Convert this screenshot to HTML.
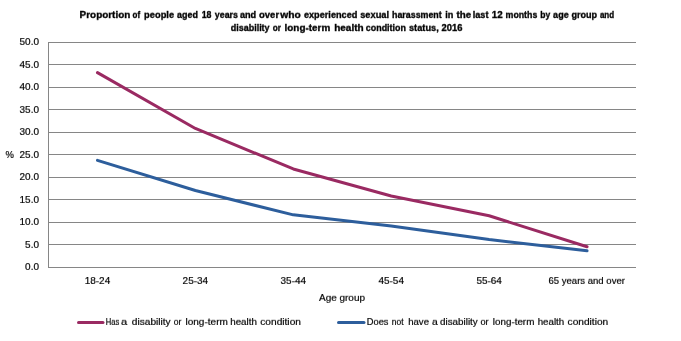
<!DOCTYPE html>
<html><head><meta charset="utf-8"><style>
html,body{margin:0;padding:0;background:#fff;width:681px;height:341px;overflow:hidden;position:relative}
svg{display:block}
text{font-family:"Liberation Sans", sans-serif;fill:#000;stroke:#000;stroke-width:0.2px}
text[font-weight=bold]{stroke-width:0.35px}
.tl{position:absolute;left:0;width:681px;height:16px;will-change:transform;transform:scaleY(0.875);transform-origin:0 12px}
#chart{position:absolute;left:0;top:0}
</style></head><body>
<svg id="chart" width="681" height="341" viewBox="0 0 681 341">
<rect width="681" height="341" fill="#fff"/>

<g stroke="#868686" stroke-width="1" shape-rendering="crispEdges"><line x1="48" y1="42.5" x2="636" y2="42.5"/><line x1="48" y1="64.5" x2="636" y2="64.5"/><line x1="48" y1="87.5" x2="636" y2="87.5"/><line x1="48" y1="109.5" x2="636" y2="109.5"/><line x1="48" y1="132.5" x2="636" y2="132.5"/><line x1="48" y1="154.5" x2="636" y2="154.5"/><line x1="48" y1="177.5" x2="636" y2="177.5"/><line x1="48" y1="199.5" x2="636" y2="199.5"/><line x1="48" y1="222.5" x2="636" y2="222.5"/><line x1="48" y1="244.5" x2="636" y2="244.5"/><line x1="48" y1="267.5" x2="636" y2="267.5"/><line x1="48.5" y1="42" x2="48.5" y2="268"/></g>
<polyline points="97.46,160.40 195.38,190.55 293.30,214.85 391.22,226.10 489.14,239.60 587.06,250.85" fill="none" stroke="#2D5E9C" stroke-width="3" stroke-linejoin="round" stroke-linecap="round"/>
<polyline points="97.46,72.65 195.38,128.45 293.30,168.95 391.22,195.95 489.14,215.75 587.06,246.80" fill="none" stroke="#9A2A62" stroke-width="3" stroke-linejoin="round" stroke-linecap="round"/>
<line x1="78.5" y1="322.5" x2="103" y2="322.5" stroke="#9A2A62" stroke-width="3" stroke-linecap="round"/>
<line x1="338.5" y1="322.5" x2="364" y2="322.5" stroke="#2D5E9C" stroke-width="3" stroke-linecap="round"/>
</svg>
<div class="tl" style="top:6px"><svg width="681" height="16" viewBox="0 0 681 16"><text x="79.60" y="12" font-size="10" font-weight="bold" textLength="50.71" lengthAdjust="spacingAndGlyphs">Proportion</text>
<text x="132.60" y="12" font-size="10" font-weight="bold" textLength="7.56" lengthAdjust="spacingAndGlyphs">of</text>
<text x="144.10" y="12" font-size="10" font-weight="bold" textLength="30.02" lengthAdjust="spacingAndGlyphs">people</text>
<text x="177.00" y="12" font-size="10" font-weight="bold" textLength="20.91" lengthAdjust="spacingAndGlyphs">aged</text>
<text x="201.70" y="12" font-size="10" font-weight="bold" textLength="9.81" lengthAdjust="spacingAndGlyphs">18</text>
<text x="214.80" y="12" font-size="10" font-weight="bold" textLength="23.22" lengthAdjust="spacingAndGlyphs">years</text>
<text x="239.90" y="12" font-size="10" font-weight="bold" textLength="16.30" lengthAdjust="spacingAndGlyphs">and</text>
<text x="259.00" y="12" font-size="10" font-weight="bold" textLength="20.12" lengthAdjust="spacingAndGlyphs">over</text>
<text x="280.30" y="12" font-size="10" font-weight="bold" textLength="20.50" lengthAdjust="spacingAndGlyphs">who</text>
<text x="303.90" y="12" font-size="10" font-weight="bold" textLength="53.54" lengthAdjust="spacingAndGlyphs">experienced</text>
<text x="360.20" y="12" font-size="10" font-weight="bold" textLength="28.93" lengthAdjust="spacingAndGlyphs">sexual</text>
<text x="392.00" y="12" font-size="10" font-weight="bold" textLength="49.72" lengthAdjust="spacingAndGlyphs">harassment</text>
<text x="445.20" y="12" font-size="10" font-weight="bold" textLength="8.10" lengthAdjust="spacingAndGlyphs">in</text>
<text x="456.50" y="12" font-size="10" font-weight="bold" textLength="14.70" lengthAdjust="spacingAndGlyphs">the</text>
<text x="472.70" y="12" font-size="10" font-weight="bold" textLength="15.80" lengthAdjust="spacingAndGlyphs">last</text>
<text x="491.70" y="12" font-size="10" font-weight="bold" textLength="10.92" lengthAdjust="spacingAndGlyphs">12</text>
<text x="505.60" y="12" font-size="10" font-weight="bold" textLength="31.70" lengthAdjust="spacingAndGlyphs">months</text>
<text x="540.30" y="12" font-size="10" font-weight="bold" textLength="10.02" lengthAdjust="spacingAndGlyphs">by</text>
<text x="553.10" y="12" font-size="10" font-weight="bold" textLength="15.61" lengthAdjust="spacingAndGlyphs">age</text>
<text x="571.40" y="12" font-size="10" font-weight="bold" textLength="25.70" lengthAdjust="spacingAndGlyphs">group</text>
<text x="599.90" y="12" font-size="10" font-weight="bold" textLength="14.22" lengthAdjust="spacingAndGlyphs">and</text></svg></div>
<div class="tl" style="top:19px"><svg width="681" height="16" viewBox="0 0 681 16"><text x="230.70" y="12" font-size="10" font-weight="bold" textLength="38.92" lengthAdjust="spacingAndGlyphs">disability</text>
<text x="272.80" y="12" font-size="10" font-weight="bold" textLength="8.20" lengthAdjust="spacingAndGlyphs">or</text>
<text x="284.60" y="12" font-size="10" font-weight="bold" textLength="45.61" lengthAdjust="spacingAndGlyphs">long-term</text>
<text x="334.20" y="12" font-size="10" font-weight="bold" textLength="29.45" lengthAdjust="spacingAndGlyphs">health</text>
<text x="365.80" y="12" font-size="10" font-weight="bold" textLength="40.10" lengthAdjust="spacingAndGlyphs">condition</text>
<text x="409.00" y="12" font-size="10" font-weight="bold" textLength="29.72" lengthAdjust="spacingAndGlyphs">status,</text>
<text x="441.60" y="12" font-size="10" font-weight="bold" textLength="20.83" lengthAdjust="spacingAndGlyphs">2016</text></svg></div>
<div class="tl" style="top:33px"><svg width="681" height="16" viewBox="0 0 681 16"><text x="39" y="12" font-size="10" text-anchor="end">50.0</text></svg></div>
<div class="tl" style="top:56px"><svg width="681" height="16" viewBox="0 0 681 16"><text x="39" y="12" font-size="10" text-anchor="end">45.0</text></svg></div>
<div class="tl" style="top:78px"><svg width="681" height="16" viewBox="0 0 681 16"><text x="39" y="12" font-size="10" text-anchor="end">40.0</text></svg></div>
<div class="tl" style="top:101px"><svg width="681" height="16" viewBox="0 0 681 16"><text x="39" y="12" font-size="10" text-anchor="end">35.0</text></svg></div>
<div class="tl" style="top:123px"><svg width="681" height="16" viewBox="0 0 681 16"><text x="39" y="12" font-size="10" text-anchor="end">30.0</text></svg></div>
<div class="tl" style="top:146px"><svg width="681" height="16" viewBox="0 0 681 16"><text x="39" y="12" font-size="10" text-anchor="end">25.0</text><text x="5.6" y="12" font-size="10" textLength="8.4" lengthAdjust="spacingAndGlyphs">%</text></svg></div>
<div class="tl" style="top:168px"><svg width="681" height="16" viewBox="0 0 681 16"><text x="39" y="12" font-size="10" text-anchor="end">20.0</text></svg></div>
<div class="tl" style="top:191px"><svg width="681" height="16" viewBox="0 0 681 16"><text x="39" y="12" font-size="10" text-anchor="end">15.0</text></svg></div>
<div class="tl" style="top:213px"><svg width="681" height="16" viewBox="0 0 681 16"><text x="39" y="12" font-size="10" text-anchor="end">10.0</text></svg></div>
<div class="tl" style="top:236px"><svg width="681" height="16" viewBox="0 0 681 16"><text x="39" y="12" font-size="10" text-anchor="end">5.0</text></svg></div>
<div class="tl" style="top:258px"><svg width="681" height="16" viewBox="0 0 681 16"><text x="39" y="12" font-size="10" text-anchor="end">0.0</text></svg></div>
<div class="tl" style="top:272px"><svg width="681" height="16" viewBox="0 0 681 16"><text x="97.46" y="12" font-size="10" text-anchor="middle">18-24</text><text x="195.38" y="12" font-size="10" text-anchor="middle">25-34</text><text x="293.30" y="12" font-size="10" text-anchor="middle">35-44</text><text x="391.22" y="12" font-size="10" text-anchor="middle">45-54</text><text x="489.14" y="12" font-size="10" text-anchor="middle">55-64</text><text x="548.5" y="12" font-size="10" textLength="76.4" lengthAdjust="spacingAndGlyphs">65 years and over</text></svg></div>
<div class="tl" style="top:289px"><svg width="681" height="16" viewBox="0 0 681 16"><text x="342" y="12" font-size="10" text-anchor="middle">Age group</text></svg></div>
<div class="tl" style="top:313px"><svg width="681" height="16" viewBox="0 0 681 16"><text x="105.84" y="12" font-size="10" font-weight="normal" textLength="13.50" lengthAdjust="spacingAndGlyphs">Has</text>
<text x="121.00" y="12" font-size="10" font-weight="normal" textLength="6.21" lengthAdjust="spacingAndGlyphs">a</text>
<text x="131.80" y="12" font-size="10" font-weight="normal" textLength="38.86" lengthAdjust="spacingAndGlyphs">disability</text>
<text x="173.70" y="12" font-size="10" font-weight="normal" textLength="7.62" lengthAdjust="spacingAndGlyphs">or</text>
<text x="185.50" y="12" font-size="10" font-weight="normal" textLength="42.35" lengthAdjust="spacingAndGlyphs">long-term</text>
<text x="230.20" y="12" font-size="10" font-weight="normal" textLength="26.75" lengthAdjust="spacingAndGlyphs">health</text>
<text x="260.30" y="12" font-size="10" font-weight="normal" textLength="40.63" lengthAdjust="spacingAndGlyphs">condition</text><text x="366.77" y="12" font-size="10" font-weight="normal" textLength="21.77" lengthAdjust="spacingAndGlyphs">Does</text>
<text x="391.80" y="12" font-size="10" font-weight="normal" textLength="11.72" lengthAdjust="spacingAndGlyphs">not</text>
<text x="408.20" y="12" font-size="10" font-weight="normal" textLength="20.80" lengthAdjust="spacingAndGlyphs">have</text>
<text x="432.10" y="12" font-size="10" font-weight="normal" textLength="5.75" lengthAdjust="spacingAndGlyphs">a</text>
<text x="440.00" y="12" font-size="10" font-weight="normal" textLength="37.75" lengthAdjust="spacingAndGlyphs">disability</text>
<text x="480.40" y="12" font-size="10" font-weight="normal" textLength="8.21" lengthAdjust="spacingAndGlyphs">or</text>
<text x="492.80" y="12" font-size="10" font-weight="normal" textLength="41.55" lengthAdjust="spacingAndGlyphs">long-term</text>
<text x="537.70" y="12" font-size="10" font-weight="normal" textLength="26.54" lengthAdjust="spacingAndGlyphs">health</text>
<text x="567.60" y="12" font-size="10" font-weight="normal" textLength="40.63" lengthAdjust="spacingAndGlyphs">condition</text></svg></div>
</body></html>
